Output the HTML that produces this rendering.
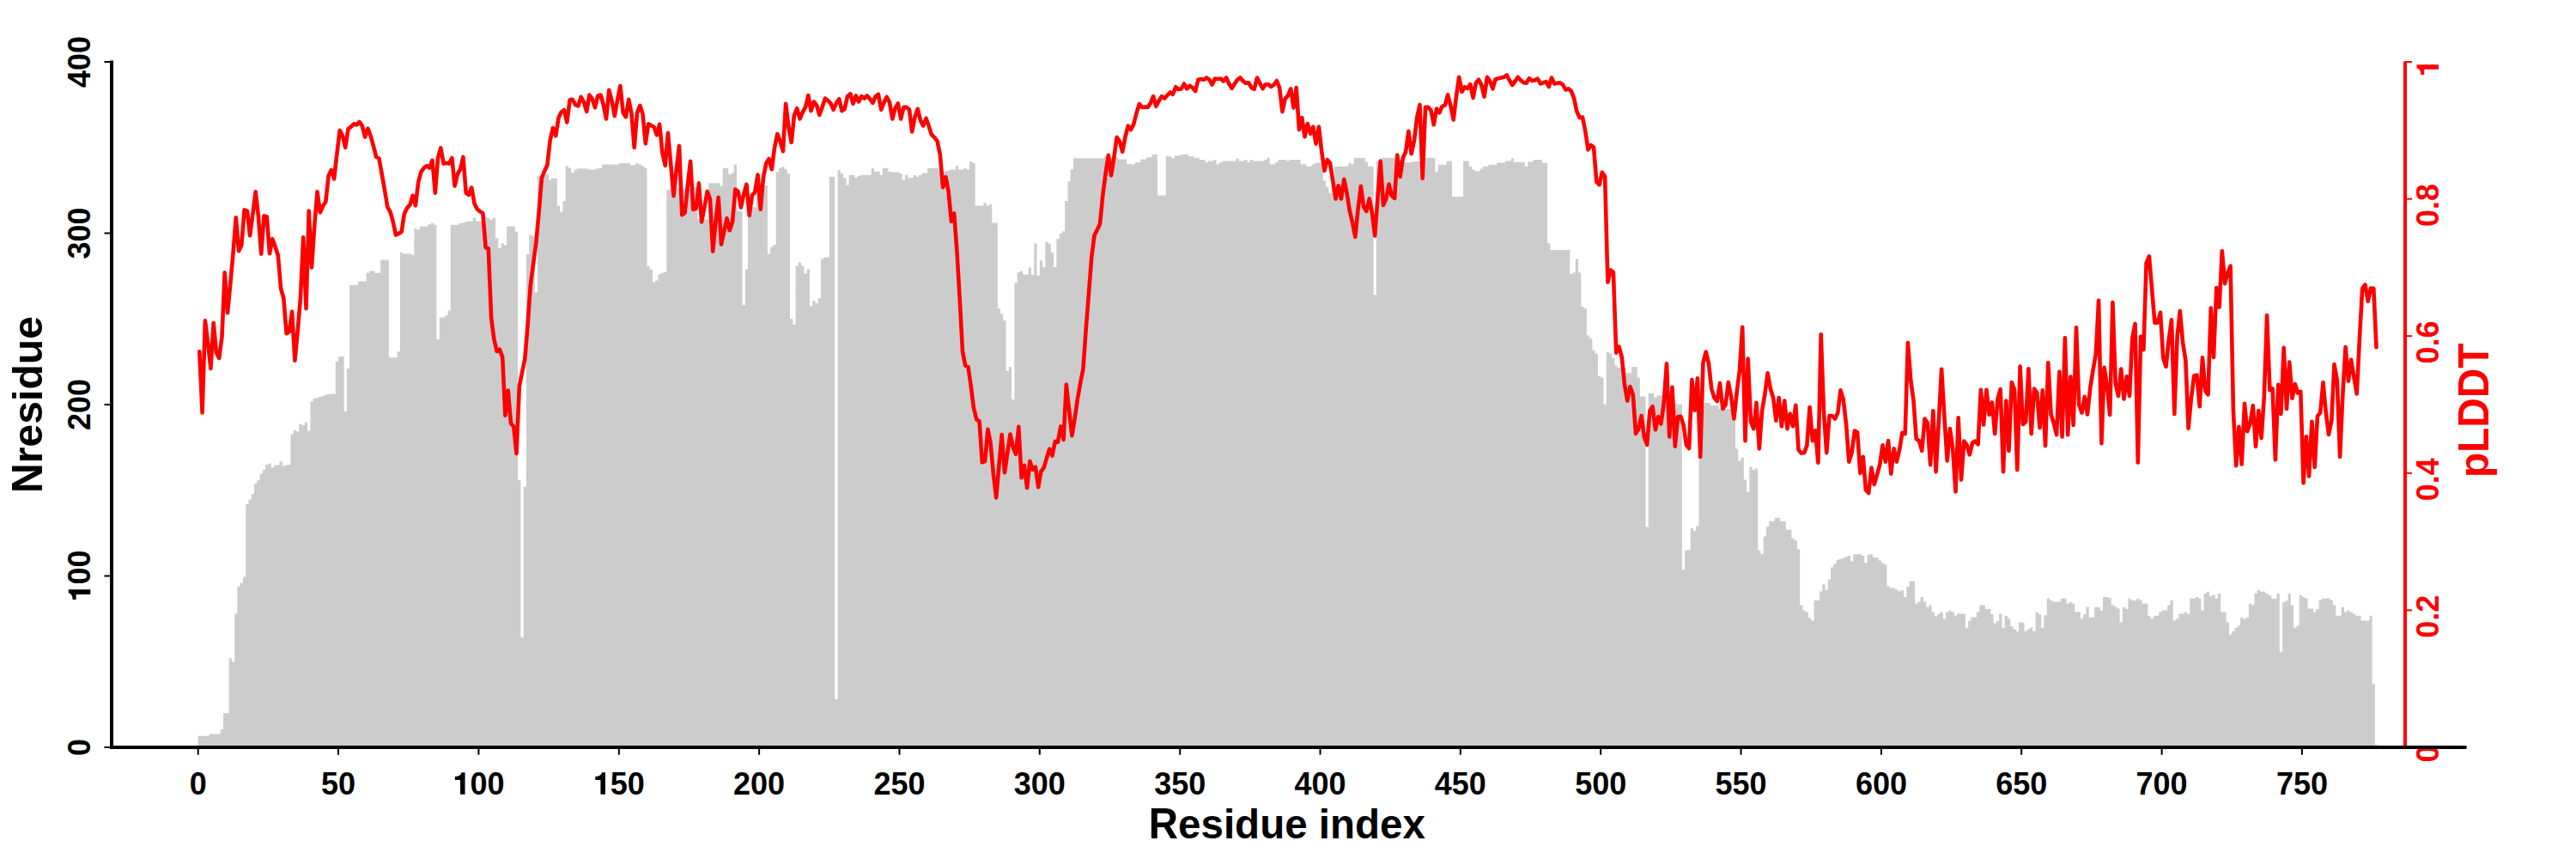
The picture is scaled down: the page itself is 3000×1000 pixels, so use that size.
<!DOCTYPE html>
<html><head><meta charset="utf-8"><title>pLDDT / Nresidue</title>
<style>
html,body{margin:0;padding:0;background:#fff;}
body{width:3000px;height:1000px;overflow:hidden;}
svg{display:block;}
svg text{font-family:"Liberation Sans",sans-serif;}
</style></head><body>
<svg width="3000" height="1000" viewBox="0 0 3000 1000">
<rect width="3000" height="1000" fill="#fff"/>
<path d="M230.7,870.0V856.7H234.0V856.7H237.2V856.7H240.5V856.7H243.8V854.6H247.0V854.6H250.3V854.6H253.6V854.6H256.8V849.0H260.1V830.3H263.4V830.3H266.6V766.3H269.9V770.6H273.2V714.3H276.4V682.5H279.7V678.4H283.0V671.5H286.2V587.1H289.5V581.5H292.8V575.0H296.0V562.9H299.3V559.2H302.6V551.4H305.8V547.1H309.1V540.9H312.4V539.6H315.6V544.3H318.9V541.5H322.2V541.5H325.4V537.2H328.7V542.4H332.0V541.5H335.2V541.1H338.5V505.5H341.8V501.1H345.0V502.4H348.3V493.6H351.6V494.9H354.8V491.8H358.1V501.5H361.4V467.6H364.6V463.8H367.9V463.3H371.2V462.0H374.4V460.9H377.7V459.6H381.0V459.0H384.2V458.6H387.5V458.6H390.8V420.9H394.0V415.1H397.3V415.1H400.6V479.1H403.9V429.1H407.1V331.7H410.4V331.7H413.7V331.7H416.9V327.4H420.2V327.4H423.5V327.4H426.7V317.7H430.0V315.5H433.3V315.5H436.5V317.7H439.8V317.7H443.1V302.4H446.3V302.4H449.6V302.4H452.9V416.3H456.1V416.3H459.4V416.3H462.7V409.2H465.9V293.8H469.2V295.6H472.5V295.6H475.7V295.6H479.0V296.8H482.3V265.9H485.5V267.6H488.8V263.6H492.1V263.6H495.3V263.6H498.6V261.3H501.9V259.6H505.1V261.8H508.4V395.2H511.7V369.6H514.9V369.6H518.2V367.2H521.5V361.4H524.7V261.8H528.0V261.8H531.3V261.8H534.5V260.1H537.8V259.6H541.1V258.3H544.3V257.5H547.6V257.5H550.9V253.6H554.1V257.5H557.4V257.5H560.7V257.5H563.9V252.2H567.2V254.0H570.5V255.7H573.7V253.6H577.0V277.6H580.3V288.9H583.5V283.3H586.8V285.4H590.1V263.6H593.3V263.6H596.6V263.6H599.9V269.7H603.1V558.8H606.4V742.3H609.7V566.8H612.9V295.9H616.2V273.2H619.5V274.9H622.7V340.5H626.0V204.8H629.3V204.8H632.5V204.8H635.8V202.5H639.1V209.5H642.3V207.6H645.6V207.6H648.9V239.8H652.1V246.8H655.4V233.9H658.7V193.2H661.9V195.5H665.2V201.3H668.5V197.8H671.7V196.2H675.0V196.2H678.3V196.2H681.5V196.2H684.8V197.4H688.1V197.4H691.3V197.4H694.6V196.0H697.9V196.0H701.1V191.5H704.4V191.5H707.7V191.5H710.9V191.5H714.2V191.5H717.5V191.5H720.8V190.0H724.0V190.0H727.3V190.0H730.6V190.0H733.8V192.3H737.1V192.3H740.4V190.0H743.6V191.4H746.9V193.2H750.2V195.8H753.4V309.8H756.7V313.4H760.0V328.2H763.2V326.6H766.5V319.4H769.8V317.8H773.0V317.0H776.3V221.1H779.6V219.4H782.8V219.4H786.1V219.4H789.4V219.4H792.6V219.4H795.9V219.4H799.2V219.4H802.4V219.4H805.7V217.7H809.0V217.7H812.2V255.5H815.5V255.5H818.8V255.5H822.0V255.5H825.3V213.3H828.6V213.3H831.8V213.3H835.1V213.3H838.4V216.8H841.6V195.8H844.9V195.8H848.2V202.8H851.4V201.6H854.7V191.4H858.0V245.6H861.2V245.6H864.5V355.3H867.8V313.4H871.0V241.2H874.3V241.2H877.6V241.2H880.8V215.9H884.1V215.9H887.4V215.9H890.6V215.9H893.9V295.4H897.2V287.5H900.4V284.9H903.7V200.2H907.0V195.8H910.2V194.1H913.5V196.7H916.8V201.9H920.0V371.2H923.3V378.0H926.6V309.4H929.8V305.4H933.1V309.4H936.4V318.4H939.6V313.4H942.9V356.3H946.2V349.9H949.4V353.3H952.7V347.3H956.0V301.4H959.2V299.4H962.5V299.4H965.8V205.8H969.0V205.8H972.3V814.1H975.6V198.1H978.8V201.9H982.1V207.2H985.4V215.6H988.6V203.7H991.9V203.7H995.2V206.8H998.4V205.1H1001.7V203.7H1005.0V203.7H1008.2V203.7H1011.5V203.7H1014.8V195.8H1018.0V199.8H1021.3V199.8H1024.6V203.7H1027.8V195.8H1031.1V195.8H1034.4V199.8H1037.6V200.2H1040.9V200.5H1044.2V200.5H1047.5V201.9H1050.7V209.8H1054.0V203.7H1057.3V207.2H1060.5V207.2H1063.8V204.0H1067.1V205.8H1070.3V203.7H1073.6V201.6H1076.9V201.6H1080.1V195.8H1083.4V195.8H1086.7V195.8H1089.9V195.8H1093.2V200.2H1096.5V200.2H1099.7V199.3H1103.0V198.4H1106.3V197.6H1109.5V197.6H1112.8V193.2H1116.1V197.6H1119.3V197.6H1122.6V195.8H1125.9V197.6H1129.1V188.0H1132.4V190.0H1135.7V239.5H1138.9V239.5H1142.2V239.5H1145.5V236.0H1148.7V239.5H1152.0V237.7H1155.3V259.6H1158.5V259.6H1161.8V359.2H1165.1V365.3H1168.3V373.2H1171.6V432.1H1174.9V427.1H1178.1V465.0H1181.4V329.5H1184.7V317.3H1187.9V315.5H1191.2V319.5H1194.5V319.5H1197.7V311.5H1201.0V319.9H1204.3V283.5H1207.5V320.8H1210.8V303.3H1214.1V311.1H1217.3V281.4H1220.6V283.5H1223.9V293.7H1227.1V311.1H1230.4V278.0H1233.7V271.8H1236.9V269.2H1240.2V234.0H1243.5V211.1H1246.7V197.2H1250.0V184.3H1253.3V184.3H1256.5V184.3H1259.8V184.3H1263.1V184.3H1266.3V184.3H1269.6V184.3H1272.9V184.3H1276.1V184.3H1279.4V184.3H1282.7V184.3H1285.9V182.0H1289.2V182.0H1292.5V183.2H1295.7V183.2H1299.0V183.2H1302.3V185.5H1305.5V185.5H1308.8V185.5H1312.1V191.3H1315.3V191.3H1318.6V191.3H1321.9V189.0H1325.1V189.0H1328.4V185.5H1331.7V185.5H1334.9V183.2H1338.2V183.2H1341.5V179.7H1344.7V179.7H1348.0V227.4H1351.3V227.4H1354.5V227.4H1357.8V182.0H1361.1V182.0H1364.3V184.3H1367.6V181.3H1370.9V181.3H1374.2V179.7H1377.4V179.7H1380.7V179.7H1384.0V182.0H1387.2V182.0H1390.5V183.7H1393.8V183.7H1397.0V186.0H1400.3V186.0H1403.6V189.0H1406.8V187.6H1410.1V187.6H1413.4V186.0H1416.6V191.3H1419.9V189.0H1423.2V187.6H1426.4V187.6H1429.7V187.6H1433.0V187.6H1436.2V187.6H1439.5V184.4H1442.8V187.6H1446.0V187.6H1449.3V186.0H1452.6V189.0H1455.8V186.0H1459.1V187.6H1462.4V187.6H1465.6V187.6H1468.9V187.6H1472.2V186.0H1475.4V183.7H1478.7V191.3H1482.0V191.3H1485.2V189.0H1488.5V186.0H1491.8V186.0H1495.0V186.0H1498.3V187.6H1501.6V186.0H1504.8V186.0H1508.1V186.0H1511.4V186.0H1514.6V191.3H1517.9V191.3H1521.2V193.7H1524.4V193.7H1527.7V191.3H1531.0V189.5H1534.2V189.5H1537.5V189.5H1540.8V210.4H1544.0V217.4H1547.3V224.4H1550.6V210.4H1553.8V193.7H1557.1V193.7H1560.4V193.7H1563.6V193.7H1566.9V193.7H1570.2V189.5H1573.4V191.3H1576.7V183.7H1580.0V183.7H1583.2V183.7H1586.5V183.7H1589.8V188.3H1593.0V193.7H1596.3V193.7H1599.6V343.2H1602.8V187.6H1606.1V187.6H1609.4V183.7H1612.6V183.7H1615.9V183.7H1619.2V183.7H1622.4V183.7H1625.7V189.0H1629.0V189.0H1632.2V189.0H1635.5V189.0H1638.8V189.0H1642.0V189.0H1645.3V188.1H1648.6V188.1H1651.8V188.1H1655.1V188.1H1658.4V183.7H1661.6V183.7H1664.9V183.7H1668.2V183.7H1671.4V200.0H1674.7V191.8H1678.0V191.8H1681.2V191.8H1684.5V187.6H1687.8V187.6H1691.0V229.1H1694.3V229.1H1697.6V229.1H1700.8V229.1H1704.1V187.6H1707.4V187.6H1710.7V193.7H1713.9V197.6H1717.2V199.3H1720.5V199.3H1723.7V196.5H1727.0V193.7H1730.3V193.7H1733.5V191.8H1736.8V191.8H1740.1V191.8H1743.3V189.5H1746.6V189.5H1749.9V189.5H1753.1V187.6H1756.4V187.6H1759.7V184.4H1762.9V188.8H1766.2V188.8H1769.5V188.8H1772.7V188.8H1776.0V194.1H1779.3V188.3H1782.5V188.3H1785.8V186.0H1789.1V186.0H1792.3V186.0H1795.6V189.5H1798.9V189.5H1802.1V283.3H1805.4V291.0H1808.7V291.0H1811.9V291.0H1815.2V291.0H1818.5V291.0H1821.7V291.0H1825.0V291.0H1828.3V318.9H1831.5V317.2H1834.8V301.4H1838.1V317.2H1841.3V357.3H1844.6V359.1H1847.9V390.5H1851.1V394.0H1854.4V408.0H1857.7V411.5H1860.9V437.7H1864.2V439.4H1867.5V470.8H1870.7V409.7H1874.0V411.5H1877.3V416.7H1880.5V425.4H1883.8V427.9H1887.1V427.9H1890.3V427.9H1893.6V434.2H1896.9V434.2H1900.1V427.2H1903.4V427.2H1906.7V439.4H1909.9V461.4H1913.2V461.4H1916.5V613.6H1919.7V457.9H1923.0V457.9H1926.3V462.8H1929.5V460.4H1932.8V460.4H1936.1V466.3H1939.3V466.3H1942.6V466.3H1945.9V469.1H1949.1V469.1H1952.4V470.8H1955.7V470.8H1958.9V663.1H1962.2V640.4H1965.5V640.4H1968.7V615.0H1972.0V617.7H1975.3V612.4H1978.5V472.6H1981.8V472.6H1985.1V469.1H1988.3V469.1H1991.6V471.9H1994.9V471.9H1998.1V471.9H2001.4V476.1H2004.7V476.1H2007.9V476.1H2011.2V476.1H2014.5V476.1H2017.7V476.1H2021.0V522.4H2024.3V536.4H2027.5V532.9H2030.8V558.5H2034.1V572.5H2037.4V543.4H2040.6V546.9H2043.9V545.3H2047.2V640.4H2050.4V644.7H2053.7V624.6H2057.0V613.3H2060.2V606.8H2063.5V606.8H2066.8V602.8H2070.0V602.8H2073.3V606.8H2076.6V606.8H2079.8V616.8H2083.1V616.8H2086.4V626.4H2089.6V629.0H2092.9V639.5H2096.2V704.5H2099.4V710.7H2102.7V712.4H2106.0V719.4H2109.2V722.5H2112.5V698.9H2115.8V698.9H2119.0V688.4H2122.3V680.2H2125.6V686.7H2128.8V674.4H2132.1V660.5H2135.4V656.4H2138.6V651.7H2141.9V650.8H2145.2V650.0H2148.4V648.2H2151.7V647.0H2155.0V653.5H2158.2V645.3H2161.5V645.3H2164.8V645.3H2168.0V647.0H2171.3V655.2H2174.6V646.0H2177.8V645.3H2181.1V649.1H2184.4V649.1H2187.6V652.6H2190.9V655.2H2194.2V657.0H2197.4V682.4H2200.7V684.5H2204.0V684.5H2207.2V686.2H2210.5V688.3H2213.8V687.1H2217.0V694.9H2220.3V682.7H2223.6V676.6H2226.8V676.6H2230.1V702.8H2233.4V700.5H2236.6V694.9H2239.9V700.5H2243.2V706.8H2246.4V704.5H2249.7V712.4H2253.0V717.3H2256.2V715.0H2259.5V712.4H2262.8V720.8H2266.0V712.4H2269.3V710.7H2272.6V712.4H2275.8V716.8H2279.1V714.5H2282.4V714.5H2285.6V714.5H2288.9V731.3H2292.2V722.9H2295.4V718.5H2298.7V718.5H2302.0V712.4H2305.2V704.5H2308.5V704.5H2311.8V708.9H2315.0V708.9H2318.3V715.0H2321.6V725.5H2324.8V722.9H2328.1V714.5H2331.4V730.8H2334.6V716.8H2337.9V720.3H2341.2V729.0H2344.4V732.5H2347.7V735.1H2351.0V724.6H2354.2V724.6H2357.5V734.8H2360.8V732.5H2364.1V730.4H2367.3V734.8H2370.6V712.4H2373.9V715.0H2377.1V730.8H2380.4V716.3H2383.7V696.7H2386.9V698.8H2390.2V700.5H2393.5V700.5H2396.7V700.5H2400.0V696.7H2403.3V696.7H2406.5V702.8H2409.8V701.1H2413.1V702.8H2416.3V712.4H2419.6V712.4H2422.9V720.3H2426.1V715.0H2429.4V706.8H2432.7V719.0H2435.9V718.5H2439.2V706.8H2442.5V706.8H2445.7V711.0H2449.0V694.9H2452.3V694.9H2455.5V696.3H2458.8V704.5H2462.1V706.3H2465.3V708.6H2468.6V724.6H2471.9V706.8H2475.1V708.9H2478.4V696.7H2481.7V698.8H2484.9V699.3H2488.2V696.7H2491.5V698.8H2494.7V702.8H2498.0V702.8H2501.3V716.7H2504.5V720.2H2507.8V716.7H2511.1V716.7H2514.3V712.4H2517.6V710.6H2520.9V710.6H2524.1V704.5H2527.4V698.8H2530.7V722.5H2533.9V720.2H2537.2V714.5H2540.5V714.5H2543.7V712.4H2547.0V714.5H2550.3V696.7H2553.5V696.7H2556.8V694.9H2560.1V696.7H2563.3V710.6H2566.6V691.1H2569.9V688.8H2573.1V694.0H2576.4V692.3H2579.7V696.7H2582.9V691.1H2586.2V712.4H2589.5V712.4H2592.7V724.6H2596.0V738.6H2599.3V735.1H2602.5V730.7H2605.8V728.4H2609.1V719.0H2612.3V720.8H2615.6V719.0H2618.9V702.8H2622.1V704.5H2625.4V691.1H2628.7V687.1H2631.9V688.8H2635.2V688.8H2638.5V691.1H2641.7V693.2H2645.0V696.7H2648.3V696.7H2651.5V691.1H2654.8V759.2H2658.1V701.0H2661.3V699.3H2664.6V691.1H2667.9V704.5H2671.1V730.7H2674.4V728.4H2677.7V692.8H2680.9V694.9H2684.2V696.7H2687.5V708.5H2690.8V708.5H2694.0V712.4H2697.3V708.9H2700.6V698.8H2703.8V696.7H2707.1V696.7H2710.4V696.7H2713.6V698.8H2716.9V704.5H2720.2V716.7H2723.4V716.7H2726.7V706.8H2730.0V712.4H2733.2V710.6H2736.5V712.4H2739.8V714.5H2743.0V716.7H2746.3V716.7H2749.6V722.5H2752.8V722.5H2756.1V722.5H2759.4V716.7H2762.6V796.2H2765.9V867.0H2769.2V870.0Z" fill="#cccccc"/>
<polyline points="232.3,409.3 235.6,480.4 238.9,373.2 242.1,398.8 245.4,429.1 248.7,376.0 251.9,410.4 255.2,417.0 258.5,391.8 261.7,317.3 265.0,364.3 268.3,330.1 271.5,295.1 274.8,253.3 278.1,292.2 281.3,285.2 284.6,244.4 287.9,245.6 291.1,274.2 294.4,249.1 297.7,223.4 300.9,251.4 304.2,295.7 307.5,251.4 310.7,251.9 314.0,295.2 317.3,278.2 320.5,287.0 323.8,297.5 327.1,335.9 330.3,347.1 333.6,388.3 336.9,386.0 340.1,362.7 343.4,419.8 346.7,384.8 349.9,347.5 353.2,276.3 356.5,359.2 359.7,245.6 363.0,311.4 366.3,262.0 369.5,223.4 372.8,247.2 376.1,239.8 379.3,235.1 382.6,204.8 385.9,197.8 389.1,208.3 392.4,179.2 395.7,151.7 399.0,158.2 402.2,171.7 405.5,150.1 408.8,147.7 412.0,144.3 415.3,145.4 418.6,141.9 421.8,146.6 425.1,159.4 428.4,149.6 431.6,158.2 434.9,169.9 438.2,182.7 441.4,184.3 444.7,202.5 448.0,221.1 451.2,240.9 454.5,246.7 457.8,258.4 461.0,273.5 464.3,271.9 467.6,270.0 470.8,249.1 474.1,242.1 477.4,238.6 480.6,227.6 483.9,239.3 487.2,211.8 490.4,200.2 493.7,195.5 497.0,193.2 500.2,195.5 503.5,186.6 506.8,224.6 510.0,183.9 513.3,172.2 516.6,190.4 519.8,189.7 523.1,190.4 526.4,183.9 529.6,216.5 532.9,202.5 536.2,196.7 539.4,182.7 542.7,224.6 546.0,226.9 549.2,218.3 552.5,237.0 555.8,243.5 559.0,246.3 562.3,248.0 565.6,288.0 568.8,289.3 572.1,370.0 575.4,395.0 578.6,409.0 581.9,406.7 585.2,416.0 588.4,483.6 591.7,454.5 595.0,493.0 598.2,496.5 601.5,527.9 604.8,449.9 608.0,433.6 611.3,418.0 614.6,378.0 617.8,332.0 621.1,307.0 624.4,282.0 627.6,247.0 630.9,207.1 634.2,199.0 637.4,192.0 640.7,162.9 644.0,148.9 647.2,158.2 650.5,137.3 653.8,130.3 657.0,128.0 660.3,142.4 663.6,116.3 666.8,115.8 670.1,122.1 673.4,123.3 676.6,112.8 679.9,118.6 683.2,129.8 686.4,110.5 689.7,115.1 693.0,125.2 696.2,111.6 699.5,110.5 702.8,122.1 706.0,138.4 709.3,104.7 712.6,117.5 715.8,134.9 719.1,116.3 722.4,100.0 725.7,131.4 728.9,136.1 732.2,115.8 735.5,132.6 738.7,171.7 742.0,131.4 745.3,122.8 748.5,132.6 751.8,167.1 755.1,144.3 758.3,145.9 761.6,147.7 764.9,157.1 768.1,144.7 771.4,178.0 774.7,192.7 777.9,154.7 781.2,190.8 784.5,228.1 787.7,197.8 791.0,169.9 794.3,250.2 797.5,247.9 800.8,216.5 804.1,187.8 807.3,243.8 810.6,242.9 813.9,213.4 817.1,258.4 820.4,241.4 823.7,222.8 826.9,232.1 830.2,292.6 833.5,257.7 836.7,229.8 840.0,284.5 843.3,269.3 846.5,254.2 849.8,268.2 853.1,257.7 856.3,220.4 859.6,222.8 862.9,241.4 866.1,226.3 869.4,214.6 872.7,250.7 875.9,227.4 879.2,223.9 882.5,203.4 885.7,243.7 889.0,206.5 892.3,190.2 895.5,185.0 898.8,197.1 902.1,171.5 905.3,155.9 908.6,164.5 911.9,176.2 915.1,120.7 918.4,148.2 921.7,165.7 924.9,134.3 928.2,126.1 931.5,138.4 934.7,130.8 938.0,124.9 941.3,111.0 944.5,129.1 947.8,118.4 951.1,122.6 954.3,133.8 957.6,124.9 960.9,114.5 964.1,116.8 967.4,120.3 970.7,127.7 973.9,120.3 977.2,115.2 980.5,129.1 983.7,126.8 987.0,112.1 990.3,109.1 993.5,120.7 996.8,111.4 1000.1,118.4 1003.3,112.1 1006.6,114.5 1009.9,111.4 1013.1,115.2 1016.4,119.8 1019.7,112.1 1022.9,109.8 1026.2,127.7 1029.5,119.1 1032.7,112.8 1036.0,119.1 1039.3,138.4 1042.5,126.1 1045.8,120.3 1049.1,138.4 1052.4,124.9 1055.6,124.9 1058.9,127.3 1062.2,153.4 1065.4,136.6 1068.7,126.8 1072.0,140.1 1075.2,146.4 1078.5,137.7 1081.8,147.1 1085.0,157.1 1088.3,159.9 1091.6,164.5 1094.8,179.7 1098.1,218.1 1101.4,206.0 1104.6,222.8 1107.9,257.7 1111.2,248.4 1114.4,291.9 1117.7,347.8 1121.0,409.0 1124.2,425.6 1127.5,427.0 1130.8,450.0 1134.0,475.0 1137.3,488.5 1140.6,490.3 1143.8,538.3 1147.1,536.9 1150.4,499.9 1153.6,515.6 1156.9,552.3 1160.2,579.4 1163.4,541.8 1166.7,506.0 1170.0,550.2 1173.2,527.8 1176.5,505.5 1179.8,520.8 1183.0,528.7 1186.3,496.9 1189.6,556.1 1192.8,541.8 1196.1,568.0 1199.4,536.9 1202.6,546.7 1205.9,543.6 1209.2,567.1 1212.4,548.8 1215.7,544.4 1219.0,533.1 1222.2,522.6 1225.5,530.5 1228.8,513.9 1232.0,514.7 1235.3,496.4 1238.6,511.8 1241.8,447.5 1245.1,477.2 1248.4,507.2 1251.6,487.7 1254.9,464.9 1258.2,445.7 1261.4,430.0 1264.7,383.1 1268.0,341.7 1271.2,299.8 1274.5,274.1 1277.8,267.5 1281.0,260.8 1284.3,227.4 1287.6,201.8 1290.8,180.8 1294.1,204.1 1297.4,183.2 1300.6,159.9 1303.9,164.5 1307.2,176.6 1310.4,159.9 1313.7,146.6 1317.0,151.0 1320.2,144.7 1323.5,131.9 1326.8,121.0 1330.0,124.9 1333.3,124.5 1336.6,124.9 1339.8,120.3 1343.1,112.1 1346.4,123.8 1349.6,117.5 1352.9,112.1 1356.2,114.5 1359.4,111.0 1362.7,107.5 1366.0,109.8 1369.2,101.2 1372.5,104.0 1375.8,103.5 1379.1,97.5 1382.3,103.3 1385.6,99.8 1388.9,102.1 1392.1,106.1 1395.4,92.8 1398.7,92.1 1401.9,92.8 1405.2,90.5 1408.5,92.8 1411.7,98.6 1415.0,91.6 1418.3,92.1 1421.5,91.6 1424.8,94.4 1428.1,90.5 1431.3,97.5 1434.6,102.8 1437.9,97.5 1441.1,92.8 1444.4,90.5 1447.7,94.4 1450.9,96.8 1454.2,96.3 1457.5,102.1 1460.7,103.8 1464.0,90.5 1467.3,96.8 1470.5,103.3 1473.8,98.2 1477.1,98.2 1480.3,101.0 1483.6,98.6 1486.9,94.0 1490.1,102.1 1493.4,130.1 1496.7,114.9 1499.9,111.4 1503.2,103.3 1506.5,125.4 1509.7,102.1 1513.0,151.0 1516.3,137.1 1519.5,159.2 1522.8,144.1 1526.1,155.7 1529.3,147.6 1532.6,167.4 1535.9,147.6 1539.1,175.5 1542.4,198.8 1545.7,186.0 1548.9,189.5 1552.2,210.4 1555.5,231.4 1558.7,216.3 1562.0,231.4 1565.3,208.8 1568.5,224.4 1571.8,245.4 1575.1,259.4 1578.3,275.7 1581.6,243.1 1584.9,216.7 1588.1,240.7 1591.4,245.9 1594.7,231.4 1597.9,247.7 1601.2,274.5 1604.5,229.1 1607.7,187.6 1611.0,238.9 1614.3,231.4 1617.5,214.6 1620.8,227.9 1624.1,230.9 1627.3,180.6 1630.6,205.8 1633.9,183.7 1637.1,176.7 1640.4,152.9 1643.7,179.0 1646.9,163.9 1650.2,137.1 1653.5,121.9 1656.7,207.6 1660.0,124.7 1663.3,124.7 1666.5,128.5 1669.8,145.2 1673.1,126.6 1676.3,131.2 1679.6,123.8 1682.9,122.4 1686.1,110.3 1689.4,123.1 1692.7,139.4 1695.9,112.6 1699.2,89.8 1702.5,106.8 1705.8,101.4 1709.0,102.8 1712.3,98.2 1715.6,113.8 1718.8,96.8 1722.1,92.8 1725.4,99.1 1728.6,112.6 1731.9,89.8 1735.2,94.4 1738.4,103.3 1741.7,92.1 1745.0,91.2 1748.2,90.5 1751.5,89.8 1754.8,87.5 1758.0,93.5 1761.3,99.1 1764.6,94.4 1767.8,89.8 1771.1,93.5 1774.4,96.3 1777.6,96.8 1780.9,91.2 1784.2,94.0 1787.4,93.5 1790.7,91.6 1794.0,97.5 1797.2,96.3 1800.5,95.1 1803.8,101.0 1807.0,90.5 1810.3,97.5 1813.6,96.8 1816.8,96.3 1820.1,98.6 1823.4,104.5 1826.6,103.3 1829.9,106.1 1833.2,114.9 1836.4,130.1 1839.7,137.1 1843.0,136.4 1846.2,152.2 1849.5,174.3 1852.8,169.0 1856.0,171.3 1859.3,211.6 1862.6,215.1 1865.8,200.7 1869.1,205.3 1872.4,328.4 1875.6,314.4 1878.9,317.1 1882.2,410.6 1885.4,403.6 1888.7,415.3 1892.0,447.9 1895.2,466.5 1898.5,450.2 1901.8,459.5 1905.0,505.0 1908.3,499.1 1911.6,484.0 1914.8,508.5 1918.1,517.8 1921.4,478.2 1924.6,473.1 1927.9,500.3 1931.2,485.2 1934.4,493.3 1937.7,468.9 1941.0,423.4 1944.2,508.5 1947.5,450.9 1950.8,519.6 1954.0,485.2 1957.3,484.7 1960.6,494.5 1963.8,517.8 1967.1,522.0 1970.4,442.1 1973.6,477.7 1976.9,440.4 1980.2,531.8 1983.4,422.3 1986.7,409.5 1990.0,423.4 1993.2,452.6 1996.5,463.0 1999.8,467.0 2003.0,446.0 2006.3,475.8 2009.6,471.2 2012.8,445.1 2016.1,461.9 2019.4,487.5 2022.6,457.2 2025.9,431.6 2029.2,380.7 2032.5,513.1 2035.7,417.6 2039.0,491.0 2042.3,499.1 2045.5,468.9 2048.8,522.4 2052.1,478.2 2055.3,459.5 2058.6,434.4 2061.9,452.6 2065.1,463.0 2068.4,489.8 2071.7,463.0 2074.9,496.3 2078.2,466.5 2081.5,499.1 2084.7,481.7 2088.0,496.3 2091.3,471.7 2094.5,523.6 2097.8,527.6 2101.1,527.1 2104.3,518.9 2107.6,474.0 2110.9,513.1 2114.1,501.0 2117.4,538.7 2120.7,389.2 2123.9,478.2 2127.2,527.1 2130.5,484.0 2133.7,484.0 2137.0,487.5 2140.3,480.5 2143.5,454.4 2146.8,465.4 2150.1,494.5 2153.3,537.6 2156.6,527.1 2159.9,501.5 2163.1,503.3 2166.4,550.9 2169.7,531.8 2172.9,570.2 2176.2,574.1 2179.5,544.6 2182.7,563.9 2186.0,552.7 2189.3,540.6 2192.5,518.2 2195.8,537.6 2199.1,513.1 2202.3,551.6 2205.6,522.4 2208.9,537.6 2212.1,523.6 2215.4,503.8 2218.7,505.0 2221.9,399.0 2225.2,442.1 2228.5,466.5 2231.7,510.8 2235.0,513.1 2238.3,524.8 2241.5,487.5 2244.8,492.2 2248.1,541.1 2251.3,478.2 2254.6,549.2 2257.9,489.8 2261.1,429.7 2264.4,485.2 2267.7,536.4 2270.9,499.1 2274.2,522.4 2277.5,572.5 2280.7,486.3 2284.0,558.5 2287.3,513.6 2290.5,517.8 2293.8,529.4 2297.1,515.4 2300.3,513.6 2303.6,517.3 2306.9,453.7 2310.1,494.5 2313.4,453.7 2316.7,482.8 2319.9,468.4 2323.2,505.0 2326.5,464.2 2329.7,453.0 2333.0,549.2 2336.3,466.5 2339.5,524.8 2342.8,445.1 2346.1,453.7 2349.3,546.9 2352.6,426.5 2355.9,494.0 2359.2,491.0 2362.4,429.3 2365.7,505.0 2369.0,452.6 2372.2,457.2 2375.5,498.0 2378.8,454.4 2382.0,518.9 2385.3,422.3 2388.6,482.8 2391.8,492.2 2395.1,506.1 2398.4,432.8 2401.6,508.5 2404.9,393.2 2408.2,506.1 2411.4,438.6 2414.7,494.9 2418.0,381.3 2421.2,471.2 2424.5,480.5 2427.8,461.9 2431.0,482.4 2434.3,451.4 2437.6,430.5 2440.8,412.7 2444.1,349.9 2447.4,516.1 2450.6,427.9 2453.9,449.7 2457.2,482.9 2460.4,352.0 2463.7,446.2 2467.0,461.0 2470.2,429.6 2473.5,464.5 2476.8,438.3 2480.0,461.0 2483.3,393.5 2486.6,376.9 2489.8,538.4 2493.1,391.8 2496.4,407.1 2499.6,306.2 2502.9,298.3 2506.2,337.6 2509.4,375.7 2512.7,375.7 2516.0,363.8 2519.2,416.2 2522.5,426.7 2525.8,395.3 2529.0,372.2 2532.3,482.0 2535.6,391.8 2538.8,362.1 2542.1,398.8 2545.4,419.7 2548.6,498.6 2551.9,463.7 2555.2,437.5 2558.4,436.6 2561.7,473.3 2565.0,416.2 2568.2,454.9 2571.5,459.3 2574.8,358.6 2578.0,415.9 2581.3,335.0 2584.6,357.7 2587.8,292.2 2591.1,330.3 2594.4,317.5 2597.6,309.7 2600.9,477.6 2604.2,542.2 2607.4,496.8 2610.7,540.5 2614.0,469.8 2617.2,502.1 2620.5,493.3 2623.8,472.0 2627.0,519.9 2630.3,478.0 2633.6,509.9 2636.8,461.9 2640.1,367.0 2643.4,454.1 2646.6,452.3 2649.9,535.3 2653.2,447.9 2656.4,482.0 2659.7,404.9 2663.0,475.9 2666.2,421.5 2669.5,463.7 2672.8,447.1 2676.0,457.5 2679.3,455.8 2682.6,562.3 2685.9,508.2 2689.1,554.5 2692.4,490.7 2695.7,544.0 2698.9,484.6 2702.2,480.3 2705.5,445.3 2708.7,479.4 2712.0,505.9 2715.3,489.9 2718.5,424.1 2721.8,442.7 2725.1,531.8 2728.3,460.2 2731.6,404.0 2734.9,443.6 2738.1,418.8 2741.4,439.2 2744.7,458.4 2747.9,395.0 2751.2,335.9 2754.5,331.5 2757.7,350.7 2761.0,335.5 2764.3,335.9 2767.5,404.3" fill="none" stroke="#ff0000" stroke-width="4.6" stroke-linejoin="round" stroke-linecap="round"/>
<path d="M2801,71.5V870" stroke="#ff0000" stroke-width="4" fill="none"/>
<path d="M2801,870.0H2809" stroke="#ff0000" stroke-width="2" fill="none"/>
<g transform="translate(2840.0,877.4) rotate(-90)"><text x="-10.01" y="0" font-size="36" font-weight="bold" fill="#ff0000">0</text></g>
<path d="M2801,710.4H2809" stroke="#ff0000" stroke-width="2" fill="none"/>
<g transform="translate(2840.0,717.8) rotate(-90)"><text x="-25.02" y="0" font-size="36" font-weight="bold" fill="#ff0000">0</text><text x="-5.00" y="0" font-size="36" font-weight="bold" fill="#ff0000">.</text><text x="5.00" y="0" font-size="36" font-weight="bold" fill="#ff0000">2</text></g>
<path d="M2801,550.8H2809" stroke="#ff0000" stroke-width="2" fill="none"/>
<g transform="translate(2840.0,558.2) rotate(-90)"><text x="-25.02" y="0" font-size="36" font-weight="bold" fill="#ff0000">0</text><text x="-5.00" y="0" font-size="36" font-weight="bold" fill="#ff0000">.</text><text x="5.00" y="0" font-size="36" font-weight="bold" fill="#ff0000">4</text></g>
<path d="M2801,391.2H2809" stroke="#ff0000" stroke-width="2" fill="none"/>
<g transform="translate(2840.0,398.6) rotate(-90)"><text x="-25.02" y="0" font-size="36" font-weight="bold" fill="#ff0000">0</text><text x="-5.00" y="0" font-size="36" font-weight="bold" fill="#ff0000">.</text><text x="5.00" y="0" font-size="36" font-weight="bold" fill="#ff0000">6</text></g>
<path d="M2801,231.6H2809" stroke="#ff0000" stroke-width="2" fill="none"/>
<g transform="translate(2840.0,239.0) rotate(-90)"><text x="-25.02" y="0" font-size="36" font-weight="bold" fill="#ff0000">0</text><text x="-5.00" y="0" font-size="36" font-weight="bold" fill="#ff0000">.</text><text x="5.00" y="0" font-size="36" font-weight="bold" fill="#ff0000">8</text></g>
<path d="M2801,72.0H2809" stroke="#ff0000" stroke-width="2" fill="none"/>
<g transform="translate(2840.0,79.4) rotate(-90)"><path transform="translate(-10.01,0) scale(0.03600,-0.03600)" d="M393,0L240,0L240,464L69,464L69,574Q160,574 215,610Q270,650 284,709L393,709Z" fill="#ff0000"/></g>
<g transform="translate(2898.0,477.8) rotate(-90)"><text x="-78.32" y="0" font-size="47.8" font-weight="bold" fill="#ff0000">p</text><text transform="translate(-49.11,0) scale(1,1.055)" font-size="47.8" font-weight="bold" fill="#ff0000">LDDT</text></g>
<path d="M130,70.6V872" stroke="#000" stroke-width="4" fill="none" stroke-linecap="butt"/>
<path d="M121.5,870.0H130" stroke="#000" stroke-width="2" fill="none"/>
<g transform="translate(105.3,870.0) rotate(-90)"><text x="-10.01" y="0" font-size="36" font-weight="bold" fill="#000">0</text></g>
<path d="M121.5,670.5H130" stroke="#000" stroke-width="2" fill="none"/>
<g transform="translate(105.3,670.5) rotate(-90)"><path transform="translate(-30.02,0) scale(0.03600,-0.03600)" d="M393,0L240,0L240,464L69,464L69,574Q160,574 215,610Q270,650 284,709L393,709Z" fill="#000"/><text x="-10.01" y="0" font-size="36" font-weight="bold" fill="#000">0</text><text x="10.01" y="0" font-size="36" font-weight="bold" fill="#000">0</text></g>
<path d="M121.5,471.0H130" stroke="#000" stroke-width="2" fill="none"/>
<g transform="translate(105.3,471.0) rotate(-90)"><text x="-30.02" y="0" font-size="36" font-weight="bold" fill="#000">2</text><text x="-10.01" y="0" font-size="36" font-weight="bold" fill="#000">0</text><text x="10.01" y="0" font-size="36" font-weight="bold" fill="#000">0</text></g>
<path d="M121.5,271.5H130" stroke="#000" stroke-width="2" fill="none"/>
<g transform="translate(105.3,271.5) rotate(-90)"><text x="-30.02" y="0" font-size="36" font-weight="bold" fill="#000">3</text><text x="-10.01" y="0" font-size="36" font-weight="bold" fill="#000">0</text><text x="10.01" y="0" font-size="36" font-weight="bold" fill="#000">0</text></g>
<path d="M121.5,72.0H130" stroke="#000" stroke-width="2" fill="none"/>
<g transform="translate(105.3,72.0) rotate(-90)"><text x="-30.02" y="0" font-size="36" font-weight="bold" fill="#000">4</text><text x="-10.01" y="0" font-size="36" font-weight="bold" fill="#000">0</text><text x="10.01" y="0" font-size="36" font-weight="bold" fill="#000">0</text></g>
<path d="M130,870H2871" stroke="#000" stroke-width="4" fill="none" stroke-linecap="round"/>
<path d="M230.7,870V878.7" stroke="#000" stroke-width="2" fill="none"/>
<g transform="translate(230.7,924.7)"><text x="-10.01" y="0" font-size="36" font-weight="bold" fill="#000">0</text></g>
<path d="M394.0,870V878.7" stroke="#000" stroke-width="2" fill="none"/>
<g transform="translate(394.0,924.7)"><text x="-20.02" y="0" font-size="36" font-weight="bold" fill="#000">5</text><text x="0.00" y="0" font-size="36" font-weight="bold" fill="#000">0</text></g>
<path d="M557.4,870V878.7" stroke="#000" stroke-width="2" fill="none"/>
<g transform="translate(557.4,924.7)"><path transform="translate(-30.02,0) scale(0.03600,-0.03600)" d="M393,0L240,0L240,464L69,464L69,574Q160,574 215,610Q270,650 284,709L393,709Z" fill="#000"/><text x="-10.01" y="0" font-size="36" font-weight="bold" fill="#000">0</text><text x="10.01" y="0" font-size="36" font-weight="bold" fill="#000">0</text></g>
<path d="M720.8,870V878.7" stroke="#000" stroke-width="2" fill="none"/>
<g transform="translate(720.8,924.7)"><path transform="translate(-30.02,0) scale(0.03600,-0.03600)" d="M393,0L240,0L240,464L69,464L69,574Q160,574 215,610Q270,650 284,709L393,709Z" fill="#000"/><text x="-10.01" y="0" font-size="36" font-weight="bold" fill="#000">5</text><text x="10.01" y="0" font-size="36" font-weight="bold" fill="#000">0</text></g>
<path d="M884.1,870V878.7" stroke="#000" stroke-width="2" fill="none"/>
<g transform="translate(884.1,924.7)"><text x="-30.02" y="0" font-size="36" font-weight="bold" fill="#000">2</text><text x="-10.01" y="0" font-size="36" font-weight="bold" fill="#000">0</text><text x="10.01" y="0" font-size="36" font-weight="bold" fill="#000">0</text></g>
<path d="M1047.5,870V878.7" stroke="#000" stroke-width="2" fill="none"/>
<g transform="translate(1047.5,924.7)"><text x="-30.02" y="0" font-size="36" font-weight="bold" fill="#000">2</text><text x="-10.01" y="0" font-size="36" font-weight="bold" fill="#000">5</text><text x="10.01" y="0" font-size="36" font-weight="bold" fill="#000">0</text></g>
<path d="M1210.8,870V878.7" stroke="#000" stroke-width="2" fill="none"/>
<g transform="translate(1210.8,924.7)"><text x="-30.02" y="0" font-size="36" font-weight="bold" fill="#000">3</text><text x="-10.01" y="0" font-size="36" font-weight="bold" fill="#000">0</text><text x="10.01" y="0" font-size="36" font-weight="bold" fill="#000">0</text></g>
<path d="M1374.2,870V878.7" stroke="#000" stroke-width="2" fill="none"/>
<g transform="translate(1374.2,924.7)"><text x="-30.02" y="0" font-size="36" font-weight="bold" fill="#000">3</text><text x="-10.01" y="0" font-size="36" font-weight="bold" fill="#000">5</text><text x="10.01" y="0" font-size="36" font-weight="bold" fill="#000">0</text></g>
<path d="M1537.5,870V878.7" stroke="#000" stroke-width="2" fill="none"/>
<g transform="translate(1537.5,924.7)"><text x="-30.02" y="0" font-size="36" font-weight="bold" fill="#000">4</text><text x="-10.01" y="0" font-size="36" font-weight="bold" fill="#000">0</text><text x="10.01" y="0" font-size="36" font-weight="bold" fill="#000">0</text></g>
<path d="M1700.8,870V878.7" stroke="#000" stroke-width="2" fill="none"/>
<g transform="translate(1700.8,924.7)"><text x="-30.02" y="0" font-size="36" font-weight="bold" fill="#000">4</text><text x="-10.01" y="0" font-size="36" font-weight="bold" fill="#000">5</text><text x="10.01" y="0" font-size="36" font-weight="bold" fill="#000">0</text></g>
<path d="M1864.2,870V878.7" stroke="#000" stroke-width="2" fill="none"/>
<g transform="translate(1864.2,924.7)"><text x="-30.02" y="0" font-size="36" font-weight="bold" fill="#000">5</text><text x="-10.01" y="0" font-size="36" font-weight="bold" fill="#000">0</text><text x="10.01" y="0" font-size="36" font-weight="bold" fill="#000">0</text></g>
<path d="M2027.5,870V878.7" stroke="#000" stroke-width="2" fill="none"/>
<g transform="translate(2027.5,924.7)"><text x="-30.02" y="0" font-size="36" font-weight="bold" fill="#000">5</text><text x="-10.01" y="0" font-size="36" font-weight="bold" fill="#000">5</text><text x="10.01" y="0" font-size="36" font-weight="bold" fill="#000">0</text></g>
<path d="M2190.9,870V878.7" stroke="#000" stroke-width="2" fill="none"/>
<g transform="translate(2190.9,924.7)"><text x="-30.02" y="0" font-size="36" font-weight="bold" fill="#000">6</text><text x="-10.01" y="0" font-size="36" font-weight="bold" fill="#000">0</text><text x="10.01" y="0" font-size="36" font-weight="bold" fill="#000">0</text></g>
<path d="M2354.2,870V878.7" stroke="#000" stroke-width="2" fill="none"/>
<g transform="translate(2354.2,924.7)"><text x="-30.02" y="0" font-size="36" font-weight="bold" fill="#000">6</text><text x="-10.01" y="0" font-size="36" font-weight="bold" fill="#000">5</text><text x="10.01" y="0" font-size="36" font-weight="bold" fill="#000">0</text></g>
<path d="M2517.6,870V878.7" stroke="#000" stroke-width="2" fill="none"/>
<g transform="translate(2517.6,924.7)"><text x="-30.02" y="0" font-size="36" font-weight="bold" fill="#000">7</text><text x="-10.01" y="0" font-size="36" font-weight="bold" fill="#000">0</text><text x="10.01" y="0" font-size="36" font-weight="bold" fill="#000">0</text></g>
<path d="M2680.9,870V878.7" stroke="#000" stroke-width="2" fill="none"/>
<g transform="translate(2680.9,924.7)"><text x="-30.02" y="0" font-size="36" font-weight="bold" fill="#000">7</text><text x="-10.01" y="0" font-size="36" font-weight="bold" fill="#000">5</text><text x="10.01" y="0" font-size="36" font-weight="bold" fill="#000">0</text></g>
<g transform="translate(1498.8,976.2)"><text transform="translate(-161.03,0) scale(1,1.055)" font-size="47.5" font-weight="bold" fill="#000">R</text><text x="-126.73" y="0" font-size="47.5" font-weight="bold" fill="#000">esidue index</text></g>
<g transform="translate(48.7,471.0) rotate(-90)"><text transform="translate(-102.91,0) scale(1,1.055)" font-size="48.1" font-weight="bold" fill="#000">N</text><text x="-68.18" y="0" font-size="48.1" font-weight="bold" fill="#000">residue</text></g>
</svg>
</body></html>
